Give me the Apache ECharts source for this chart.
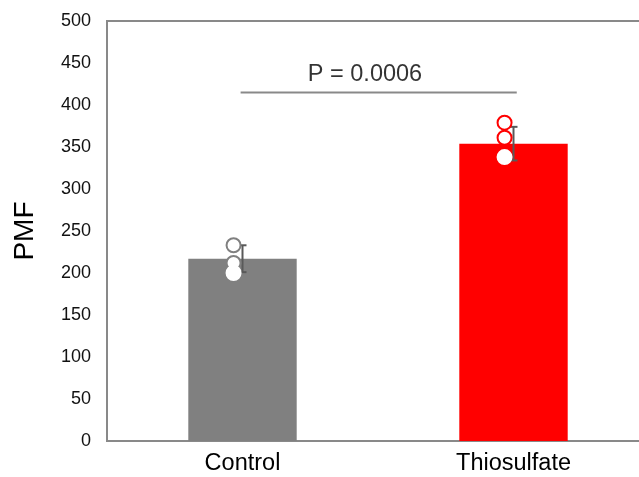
<!DOCTYPE html>
<html><head><meta charset="utf-8">
<script src="https://cdn.jsdelivr.net/npm/echarts@6/dist/echarts.min.js"></script>
<style>html,body{margin:0;padding:0;background:#fff}#c{width:639px;height:477px}</style>
</head><body><div id="c"></div>
<script>
var categories = ['Control', 'Thiosulfate'];
var means = [217, 354];
var errLow = [201, 334];
var errHigh = [233, 374];
var controlDots = [233, 212, 200];
var thioDots = [379, 361, 338];
var yTicks = {min: 0, max: 500, interval: 50};
var bracketY = 415;
var pText = 'P = 0.0006';
var pTextY = 436;
var barColors = ['#808080', '#FF0000'];

var dotOffset = -0.033;
function dotData(idx, vals, color) {
  return vals.map(function (v, i) {
    return {value: [idx + dotOffset, v], itemStyle: {borderColor: i === vals.length - 1 ? '#ffffff' : color}};
  });
}

var chart = echarts.init(document.getElementById('c'));
chart.setOption({
  animation: false,
  grid: {left: 107, top: 21, width: 542, height: 420, show: true, borderColor: '#898989', borderWidth: 2,
         outerBoundsMode: 'none'},
  xAxis: [
    {type: 'category', data: categories, axisLine: {show: false}, axisTick: {show: false},
     axisLabel: {fontFamily: 'Liberation Sans', fontSize: 23.5, color: '#000', margin: 11}},
    {type: 'value', min: -0.5, max: 1.5, show: false}
  ],
  yAxis: {type: 'value', min: yTicks.min, max: yTicks.max, interval: yTicks.interval,
    name: 'PMF', nameLocation: 'middle', nameGap: 68, nameRotate: 90,
    nameTextStyle: {fontFamily: 'Liberation Sans', fontSize: 28, color: '#000'},
    axisLine: {show: false}, axisTick: {show: false}, splitLine: {show: false},
    axisLabel: {fontFamily: 'Liberation Sans', fontSize: 18, color: '#111', margin: 16}},
  series: [
    {type: 'bar', data: means.map(function (v, i) { return {value: v, itemStyle: {color: barColors[i]}}; }),
     barWidth: '40%', z: 1},
    {type: 'custom', xAxisIndex: 1, z: 3,
     data: categories.map(function (c, i) { return [i, errLow[i], errHigh[i]]; }),
     renderItem: function (params, api) {
       var lo = api.coord([api.value(0), api.value(1)]);
       var hi = api.coord([api.value(0), api.value(2)]);
       var hw = 4;
       var st = {stroke: '#595959', lineWidth: 2};
       return {type: 'group', children: [
         {type: 'line', shape: {x1: lo[0], y1: lo[1], x2: hi[0], y2: hi[1]}, style: st},
         {type: 'line', shape: {x1: lo[0] - hw, y1: lo[1], x2: lo[0] + hw, y2: lo[1]}, style: st},
         {type: 'line', shape: {x1: hi[0] - hw, y1: hi[1], x2: hi[0] + hw, y2: hi[1]}, style: st}
       ]};
     }},
    {type: 'scatter', xAxisIndex: 1, z: 4, symbolSize: 14,
     itemStyle: {color: '#ffffff', borderWidth: 2, opacity: 1},
     data: dotData(0, controlDots, barColors[0])},
    {type: 'scatter', xAxisIndex: 1, z: 4, symbolSize: 14,
     itemStyle: {color: '#ffffff', borderWidth: 2, opacity: 1},
     data: dotData(1, thioDots, barColors[1])},
    {type: 'line', xAxisIndex: 1, z: 2, symbol: 'none',
     lineStyle: {color: '#898989', width: 2},
     data: [[-0.007, bracketY], [1.012, bracketY]]},
    {type: 'scatter', xAxisIndex: 1, symbolSize: 0, z: 5,
     data: [[0.452, pTextY]],
     label: {show: true, position: 'inside', formatter: pText, fontFamily: 'Liberation Sans', fontSize: 23.5, color: '#000'}}
  ]
});
</script></body></html>
